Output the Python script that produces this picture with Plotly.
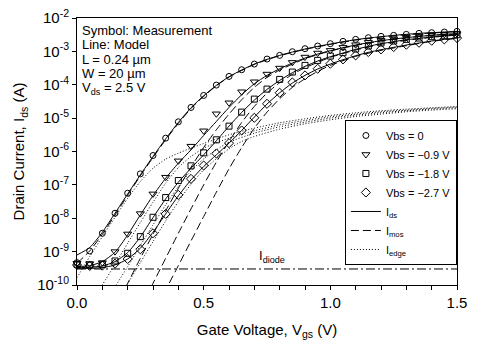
import plotly.graph_objects as go

# ---------------- data (log10 of drain current in A) ----------------
VGS = [0.00, 0.05, 0.10, 0.15, 0.20, 0.25, 0.30, 0.35, 0.40, 0.45, 0.50,
       0.55, 0.60, 0.65, 0.70, 0.75, 0.80, 0.85, 0.90, 0.95, 1.00,
       1.05, 1.10, 1.15, 1.20, 1.25, 1.30, 1.35, 1.40, 1.45, 1.50]

# measurements (symbols)
MEAS_VBS0 = [-9.33, -8.98, -8.45, -7.85, -7.25, -6.67, -6.12, -5.60, -5.11, -4.68, -4.32,
             -4.01, -3.75, -3.55, -3.38, -3.23, -3.12, -3.01, -2.92, -2.84, -2.77,
             -2.70, -2.64, -2.59, -2.55, -2.52, -2.49, -2.46, -2.44, -2.42, -2.40]
MEAS_VBS09 = [-9.35, -9.36, -9.33, -9.00, -8.47, -7.86, -7.27, -6.77, -6.28, -5.84, -5.38,
              -4.87, -4.54, -4.21, -3.91, -3.68, -3.50, -3.33, -3.17, -3.05, -2.97,
              -2.88, -2.80, -2.73, -2.67, -2.62, -2.58, -2.54, -2.51, -2.49, -2.47]
MEAS_VBS18 = [-9.38, -9.40, -9.38, -9.28, -9.05, -8.55, -7.97, -7.38, -6.87, -6.43, -6.04,
              -5.65, -5.24, -4.82, -4.43, -4.13, -3.84, -3.62, -3.42, -3.27, -3.14,
              -3.04, -2.93, -2.84, -2.75, -2.69, -2.64, -2.60, -2.56, -2.53, -2.50]
MEAS_VBS27 = [-9.40, -9.43, -9.42, -9.36, -9.22, -8.93, -8.45, -7.87, -7.30, -6.82, -6.42,
              -6.06, -5.75, -5.37, -4.99, -4.57, -4.24, -3.93, -3.72, -3.52, -3.37,
              -3.24, -3.12, -3.02, -2.94, -2.87, -2.80, -2.74, -2.68, -2.64, -2.60]

# model: total drain current I_ds (solid)
IDS_VBS0 = [-9.10, -8.88, -8.42, -7.85, -7.27, -6.70, -6.15, -5.62, -5.13, -4.69, -4.33,
            -4.02, -3.76, -3.56, -3.38, -3.24, -3.12, -3.02, -2.93, -2.85, -2.78,
            -2.71, -2.65, -2.60, -2.56, -2.52, -2.49, -2.46, -2.44, -2.42, -2.40]
IDS_VBS09 = [-9.45, -9.42, -9.30, -9.02, -8.50, -7.90, -7.32, -6.80, -6.35, -5.95, -5.52,
             -5.10, -4.68, -4.30, -3.97, -3.72, -3.52, -3.35, -3.20, -3.08, -2.98,
             -2.89, -2.81, -2.74, -2.68, -2.63, -2.59, -2.55, -2.52, -2.49, -2.47]
IDS_VBS18 = [-9.48, -9.47, -9.43, -9.30, -9.03, -8.56, -7.98, -7.42, -6.92, -6.50, -6.10,
             -5.68, -5.24, -4.83, -4.46, -4.14, -3.87, -3.64, -3.45, -3.29, -3.16,
             -3.05, -2.94, -2.85, -2.77, -2.71, -2.65, -2.61, -2.57, -2.53, -2.50]
IDS_VBS27 = [-9.50, -9.50, -9.48, -9.40, -9.22, -8.90, -8.42, -7.87, -7.33, -6.85, -6.45,
             -6.10, -5.75, -5.37, -4.97, -4.58, -4.24, -3.95, -3.72, -3.53, -3.38,
             -3.25, -3.13, -3.03, -2.95, -2.88, -2.81, -2.75, -2.69, -2.64, -2.60]

# model: main-channel current I_mos (dashed)
IMOS_X_VBS0 = [0.00, 0.05, 0.10, 0.15, 0.20, 0.25, 0.30, 0.35, 0.40, 0.45, 0.50,
               0.55, 0.60, 0.70, 0.80, 0.90, 1.00, 1.10, 1.20, 1.30, 1.40, 1.50]
IMOS_VBS0 = [-9.35, -8.98, -8.48, -7.90, -7.31, -6.73, -6.18, -5.65, -5.16, -4.71, -4.35,
             -4.03, -3.77, -3.39, -3.13, -2.94, -2.79, -2.66, -2.57, -2.50, -2.45, -2.41]
IMOS_X_VBS09 = [0.15, 0.20, 0.25, 0.30, 0.35, 0.40, 0.45, 0.50, 0.55, 0.60, 0.65,
                0.70, 0.75, 0.80, 0.90, 1.00, 1.10, 1.20, 1.30, 1.40, 1.50]
IMOS_VBS09 = [-10.70, -9.95, -9.20, -8.48, -7.78, -7.10, -6.47, -5.88, -5.35, -4.88, -4.45,
              -4.08, -3.78, -3.56, -3.22, -2.99, -2.82, -2.69, -2.60, -2.52, -2.48]
IMOS_X_VBS18 = [0.25, 0.30, 0.35, 0.40, 0.45, 0.50, 0.55, 0.60, 0.65, 0.70, 0.75,
                0.80, 0.85, 0.90, 1.00, 1.10, 1.20, 1.30, 1.40, 1.50]
IMOS_VBS18 = [-10.70, -9.95, -9.20, -8.45, -7.72, -7.00, -6.32, -5.70, -5.13, -4.65, -4.25,
              -3.94, -3.69, -3.49, -3.18, -2.96, -2.79, -2.67, -2.58, -2.51]
IMOS_X_VBS27 = [0.30, 0.35, 0.40, 0.45, 0.50, 0.55, 0.60, 0.65, 0.70, 0.75, 0.80,
                0.85, 0.90, 0.95, 1.00, 1.10, 1.20, 1.30, 1.40, 1.50]
IMOS_VBS27 = [-10.90, -10.15, -9.42, -8.68, -7.95, -7.22, -6.52, -5.88, -5.30, -4.82, -4.42,
              -4.08, -3.82, -3.60, -3.42, -3.15, -2.97, -2.83, -2.70, -2.61]

# model: edge (corner) current I_edge (dotted)
IEDGE_X_VBS0 = [0.00, 0.05, 0.10, 0.15, 0.20, 0.25, 0.30, 0.35, 0.40, 0.45, 0.50,
                0.60, 0.70, 0.80, 0.90, 1.00, 1.10, 1.20, 1.30, 1.40, 1.50]
IEDGE_VBS0 = [-9.78, -9.15, -8.55, -7.97, -7.40, -6.90, -6.50, -6.23, -6.05, -5.90, -5.76,
              -5.50, -5.30, -5.14, -5.02, -4.92, -4.84, -4.78, -4.73, -4.69, -4.65]
IEDGE_X_VBS09 = [0.05, 0.10, 0.15, 0.20, 0.25, 0.30, 0.35, 0.40, 0.45, 0.50,
                 0.60, 0.70, 0.80, 0.90, 1.00, 1.10, 1.20, 1.30, 1.40, 1.50]
IEDGE_VBS09 = [-10.62, -10.00, -9.38, -8.75, -8.13, -7.52, -6.95, -6.48, -6.15, -5.90,
               -5.60, -5.38, -5.20, -5.07, -4.96, -4.88, -4.81, -4.76, -4.71, -4.67]
IEDGE_X_VBS18 = [0.10, 0.15, 0.20, 0.25, 0.30, 0.35, 0.40, 0.45, 0.50, 0.55,
                 0.60, 0.70, 0.80, 0.90, 1.00, 1.10, 1.20, 1.30, 1.40, 1.50]
IEDGE_VBS18 = [-10.70, -10.06, -9.45, -8.82, -8.20, -7.60, -7.05, -6.58, -6.22, -5.95,
               -5.72, -5.45, -5.26, -5.12, -5.00, -4.91, -4.84, -4.78, -4.73, -4.69]
IEDGE_X_VBS27 = [0.15, 0.20, 0.25, 0.30, 0.35, 0.40, 0.45, 0.50, 0.55, 0.60,
                 0.65, 0.70, 0.80, 0.90, 1.00, 1.10, 1.20, 1.30, 1.40, 1.50]
IEDGE_VBS27 = [-10.60, -9.96, -9.33, -8.70, -8.08, -7.50, -6.98, -6.55, -6.22, -5.92,
               -5.70, -5.55, -5.33, -5.17, -5.05, -4.95, -4.88, -4.81, -4.76, -4.72]

# model: junction diode leakage I_diode (dash-dot)
IDIODE_X = [0.0, 1.5]
IDIODE = [-9.52, -9.52]
IDIODE_LABEL_X = 0.71

SERIES_NAMES = ["Vbs = 0", "Vbs = \u22120.9 V", "Vbs = \u22121.8 V", "Vbs = \u22122.7 V"]
Y_TICK_EXP = [-10, -9, -8, -7, -6, -5, -4, -3, -2]
X_TICK_VALS = [0.0, 0.1, 0.2, 0.3, 0.4, 0.5, 0.6, 0.7, 0.8, 0.9, 1.0,
               1.1, 1.2, 1.3, 1.4, 1.5]
X_TICK_TEXT = ["0.0", "", "", "", "", "0.5", "", "", "", "", "1.0",
               "", "", "", "", "1.5"]
INFO_LINES = ["Symbol: Measurement", "Line: Model", "L = 0.24 \u00b5m",
              "W = 20 \u00b5m", "V<sub>ds</sub> = 2.5 V"]


def amps(logs):
    return [10 ** v for v in logs]


FONT = "Liberation Sans, Arial, sans-serif"
fig = go.Figure()

# diode line
fig.add_trace(go.Scatter(x=IDIODE_X, y=amps(IDIODE), mode="lines",
                         line=dict(color="black", width=1, dash="9px,3px,2px,3px"),
                         showlegend=False, hoverinfo="skip"))

edge_sets = [(IEDGE_X_VBS0, IEDGE_VBS0), (IEDGE_X_VBS09, IEDGE_VBS09),
             (IEDGE_X_VBS18, IEDGE_VBS18), (IEDGE_X_VBS27, IEDGE_VBS27)]
for i, (xs, ys) in enumerate(edge_sets):
    fig.add_trace(go.Scatter(x=xs, y=amps(ys), mode="lines",
                             line=dict(color="black", width=1, dash="1px,2px",
                                       shape="spline", smoothing=0.6),
                             name="I<sub>edge</sub>", legendgroup="edge",
                             showlegend=(i == 0), legendrank=7))

mos_sets = [(IMOS_X_VBS0, IMOS_VBS0), (IMOS_X_VBS09, IMOS_VBS09),
            (IMOS_X_VBS18, IMOS_VBS18), (IMOS_X_VBS27, IMOS_VBS27)]
for i, (xs, ys) in enumerate(mos_sets):
    fig.add_trace(go.Scatter(x=xs, y=amps(ys), mode="lines",
                             line=dict(color="black", width=1, dash="8px,4px",
                                       shape="spline", smoothing=0.6),
                             name="I<sub>mos</sub>", legendgroup="mos",
                             showlegend=(i == 0), legendrank=6))

ids_sets = [IDS_VBS0, IDS_VBS09, IDS_VBS18, IDS_VBS27]
for i, ys in enumerate(ids_sets):
    fig.add_trace(go.Scatter(x=VGS, y=amps(ys), mode="lines",
                             line=dict(color="black", width=1,
                                       shape="spline", smoothing=0.6),
                             name="I<sub>ds</sub>", legendgroup="ids",
                             showlegend=(i == 0), legendrank=5))

meas_sets = [MEAS_VBS0, MEAS_VBS09, MEAS_VBS18, MEAS_VBS27]
symbols = ["circle-open", "triangle-down-open", "square-open", "diamond-open"]
sizes = [6, 7, 6, 7]
for i, ys in enumerate(meas_sets):
    fig.add_trace(go.Scatter(x=VGS, y=amps(ys), mode="markers",
                             marker=dict(symbol=symbols[i], size=sizes[i], color="black",
                                         line=dict(color="black", width=1)),
                             name=SERIES_NAMES[i], cliponaxis=False,
                             legendrank=i + 1))

# info text block (top-left inside the frame), one line every ~14.5 px
info_y = [0.955, 0.9007, 0.8464, 0.7921, 0.7378]
for txt, yy in zip(INFO_LINES, info_y):
    fig.add_annotation(text=txt, xref="paper", yref="paper", x=0.008, y=yy,
                       xanchor="left", yanchor="middle", showarrow=False,
                       font=dict(family=FONT, size=13, color="black"))

# diode label, just above the diode line
fig.add_annotation(text="I<sub>diode</sub>", x=IDIODE_LABEL_X, y=IDIODE[0] + 0.36,
                   xref="x", yref="y", xanchor="left", yanchor="middle",
                   showarrow=False, font=dict(family=FONT, size=13, color="black"))

# the page body adds an 8 px margin, so the figure is 8 px smaller and shifted
fig.update_layout(
    width=476, height=347,
    margin=dict(l=69, r=27, t=10, b=70, autoexpand=False),
    paper_bgcolor="white", plot_bgcolor="white",
    font=dict(family=FONT, size=14, color="black"),
    legend=dict(x=0.705, y=0.075, xanchor="left", yanchor="bottom",
                bgcolor="white", bordercolor="black", borderwidth=1,
                font=dict(family=FONT, size=11, color="black"),
                itemwidth=30, tracegroupgap=0),
)

fig.update_xaxes(range=[0, 1.5], tickmode="array", tickvals=X_TICK_VALS,
                 ticktext=X_TICK_TEXT, ticks="outside", ticklen=4, tickcolor="black",
                 showline=True, linecolor="black", linewidth=1, mirror=True,
                 showgrid=False, zeroline=False, ticklabeloverflow="allow",
                 tickfont=dict(family=FONT, size=15),
                 title=dict(text="Gate Voltage, V<sub>gs</sub> (V)", standoff=14,
                            font=dict(family=FONT, size=15)))

fig.update_yaxes(type="log", range=[-10, -2], tickmode="array",
                 tickvals=[10 ** e for e in Y_TICK_EXP],
                 ticktext=["10<sup>%d</sup>" % e for e in Y_TICK_EXP],
                 ticks="outside", ticklen=4, tickcolor="black",
                 showline=True, linecolor="black", linewidth=1, mirror=True,
                 showgrid=False, zeroline=False, ticklabeloverflow="allow",
                 tickfont=dict(family=FONT, size=15),
                 title=dict(text="Drain Current, I<sub>ds</sub> (A)", standoff=8,
                            font=dict(family=FONT, size=15)))

fig.write_html("out.html")
